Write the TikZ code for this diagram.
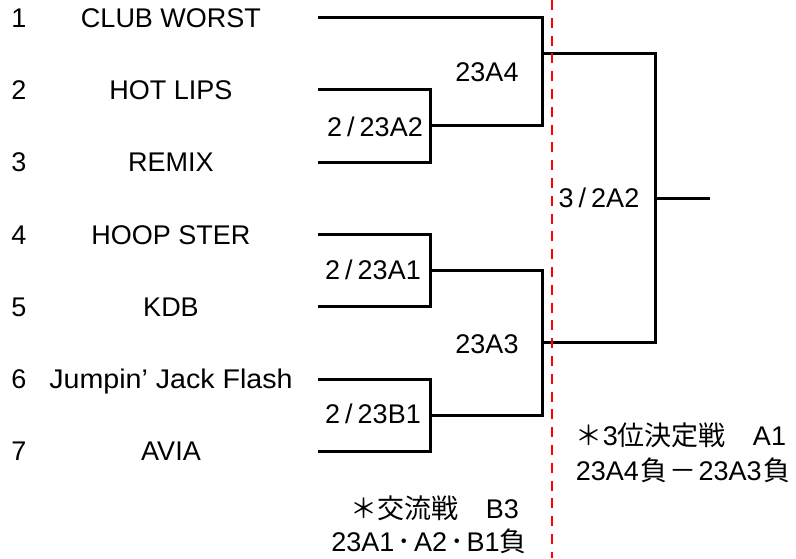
\documentclass[tikz,border=0pt]{standalone}
\usepackage{fontspec}
\setmainfont{Liberation Sans}
\newfontfamily\cjk{Noto Sans CJK JP}
\newfontfamily\widefont[FakeStretch=1.06,Ligatures=TeX]{Liberation Sans}
\newcommand{\slsep}{\kern5pt/\kern5pt}
\newcommand{\jdot}{\kern3pt{\cjk ･}\kern3pt}
\begin{document}
\begin{tikzpicture}[x=1pt,y=-1pt,
  txt/.style={inner sep=0pt,font=\fontsize{27}{31}\selectfont,text height=19.3pt,text depth=0pt},
  wire/.style={line width=3pt,line join=miter},
  divider/.style={line width=2.6pt,draw={rgb,255:red,255;green,0;blue,0},dash pattern=on 10pt off 7.8pt}]
\useasboundingbox (0,0) rectangle (796,558);
% entrants
\foreach \i/\name [count=\k] in {1/CLUB WORST,2/HOT LIPS,3/REMIX,4/HOOP STER,5/KDB,6/{{\widefont Jumpin’ Jack Flash}},7/AVIA}{
  \pgfmathsetmacro{\yy}{17.5+72.3*(\k-1)}
  \node[txt] (n\i) at (19,\yy) {\i};
  \node[txt] (t\i) at (171,\yy) {\name};
  \coordinate (s\i) at (318,\yy);
}
% junctions
\coordinate (m23) at (430,125.5);
\coordinate (m45) at (430,270);
\coordinate (m67) at (430,415);
\coordinate (a4) at (542,53);
\coordinate (a3) at (542,342);
\coordinate (f) at (655,198);
\coordinate (w) at (710,198);
% bracket
\draw[wire] (s2) -| (m23) |- (s3);
\draw[wire] (s4) -| (m45) |- (s5);
\draw[wire] (s6) -| (m67) |- (s7);
\draw[wire] (s1) -| (a4) |- (m23);
\draw[wire] (m45) -| (a3) |- (m67);
\draw[wire] (a4) -| (f) |- (a3);
\draw[wire] (f) -- (w);
% divider
\coordinate (dtop) at (552,0);
\coordinate (dbot) at (552,558);
\draw[divider] (dtop) -- (dbot);
% labels
\node[txt,anchor=east] (lA2) at (423,127) {2\slsep 23A2};
\node[txt,anchor=east] (lA1) at (421,270) {2\slsep 23A1};
\node[txt,anchor=east] (lB1) at (421,414) {2\slsep 23B1};
\node[txt] (lA4) at (487,72) {23A4};
\node[txt] (lA3) at (487,344) {23A3};
\node[txt] (l2A2) at (599,198) {3\slsep 2A2};
% notes
\node[txt] (x1) at (435,509) {{\cjk ＊交流戦　}B3};
\node[txt] (x2) at (429,542) {23A1\jdot A2\jdot B1{\cjk 負}};
\node[txt] (y1) at (681,436) {{\cjk ＊}3{\cjk 位決定戦　}A1};
\node[txt] (y2) at (683,471) {23A4\kern1.5pt{\cjk 負}\kern2pt{\cjk －}\kern2pt 23A3\kern1.5pt{\cjk 負}};
\end{tikzpicture}
\end{document}
